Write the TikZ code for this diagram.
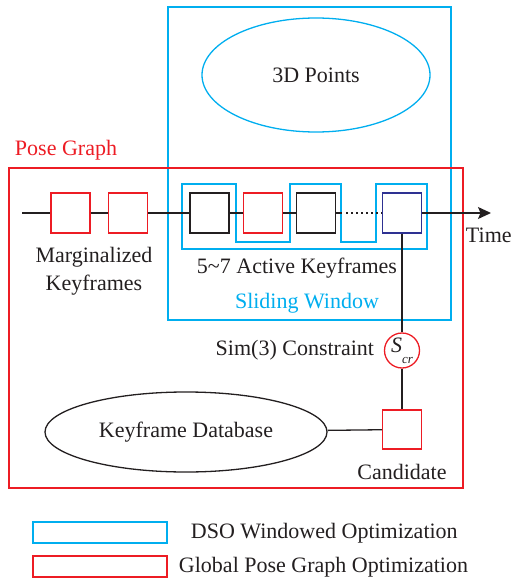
\documentclass[tikz,border=0pt]{standalone}
\usepackage{fontspec}
\setmainfont{Liberation Serif}
\usetikzlibrary{arrows.meta,shapes.geometric}
\definecolor{dsoblue}{RGB}{0,174,239}
\definecolor{pgred}{RGB}{237,28,36}
\definecolor{kfnavy}{RGB}{46,49,146}
\definecolor{inkblack}{RGB}{35,31,32}
\begin{document}
\begin{tikzpicture}[
    x=1pt, y=-1pt, line width=1.3pt, draw=inkblack,
    every node/.style={font=\fontsize{22}{28}\selectfont, text=inkblack},
    keyframe/.style={rectangle, draw=inkblack, minimum width=39pt,
        minimum height=40pt, inner sep=0pt},
    margframe/.style={keyframe, draw=pgred},
    lastframe/.style={keyframe, draw=kfnavy},
    cloud/.style={ellipse, draw, inner sep=0pt},
    simnode/.style={circle, draw=pgred, minimum size=35pt, inner sep=0pt},
    legendkey/.style={rectangle, draw, minimum width=134pt,
        minimum height=21pt, inner sep=0pt}
]
\useasboundingbox (0,0) rectangle (515,578);

% windowed optimization and pose graph frames
\draw[dsoblue] (168,7) rectangle (451,320);
\draw[pgred] (9,168) rectangle (463,488);
\draw[dsoblue] (182,184) -| (236,242) -| (290,184) -| (341,242)
    -| (376,184) -| (427,249) -| cycle;

\node (points) [cloud, draw=dsoblue, minimum width=228pt, minimum height=114pt]
    at (316,75) {3D Points};

% keyframes along the time axis
\coordinate (tstart) at (22,213);
\coordinate (tend) at (491,213);
\coordinate (dotsa) at (342,213);
\node (mk1) [margframe] at (70.5,213) {};
\node (mk2) [margframe] at (128,213) {};
\node (ak1) [keyframe] at (209.5,213) {};
\node (ak2) [margframe] at (263,213) {};
\node (ak3) [keyframe] at (316,213) {};
\node (akn) [lastframe] at (402,213) {};

\draw (tstart) -- (mk1) -- (mk2) -- (ak1) -- (ak2) -- (ak3) -- (dotsa);
\draw[dash pattern=on 1.5pt off 3.5pt] (dotsa) ++(4,0) -- (akn);
\draw[-{Stealth[length=13pt, width=12pt, inset=2.5pt]}] (akn) -- (tend);

% loop closure
\node (scr) [simnode] at (402,350.5)
    {\itshape S\raisebox{-1.1ex}{\fontsize{13}{14}\selectfont cr}};
\node (cand) [margframe, minimum height=39pt] at (402,429.5) {};
\node (kfdb) [cloud, minimum width=282pt, minimum height=80pt]
    at (186,432) {Keyframe Database};
\draw (akn) -- (scr) -- (cand);
\draw (kfdb) -- (cand);

% labels
\node (pglabel) [text=pgred, anchor=west] at (11,150) {Pose Graph};
\node (margtext) [align=center] at (94,271) {Marginalized\\Keyframes};
\node (activetext) at (297,268) {5\textasciitilde7 Active Keyframes};
\node (swtext) [text=dsoblue] at (307,303) {Sliding Window};
\node (timetext) [anchor=west] at (462,235) {Time};
\node (simtext) [anchor=east] at (378,350) {Sim(3) Constraint};
\node (candtext) at (402,472) {Candidate};

% legend
\node (dsokey) [legendkey, draw=dsoblue] at (100,532.5) {};
\node (dsotext) [anchor=west] at (187,533) {DSO Windowed Optimization};
\node (pgkey) [legendkey, draw=pgred] at (100,566.5) {};
\node (pgtext) [anchor=west] at (175,567) {Global Pose Graph Optimization};
\end{tikzpicture}
\end{document}
